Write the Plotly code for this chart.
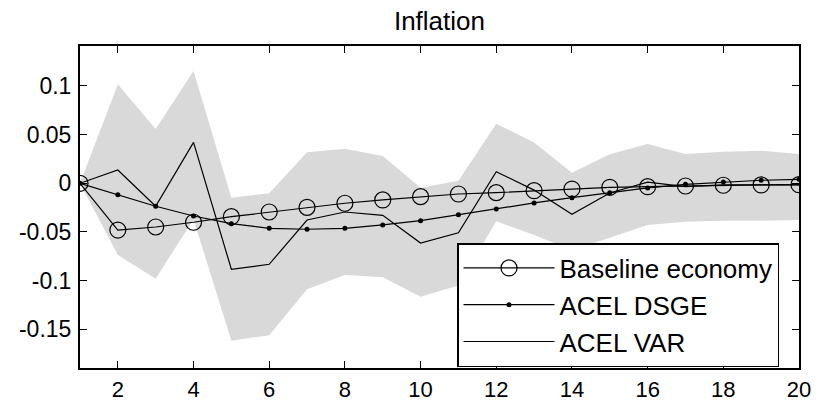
import plotly.graph_objects as go

periods = list(range(1, 21))

baseline = [0, -0.048, -0.0449, -0.040, -0.0343, -0.0295, -0.0247, -0.0205, -0.0171, -0.0137,
            -0.011, -0.0096, -0.0076, -0.0059, -0.0041, -0.0035, -0.0028, -0.002, -0.0017, -0.0014]
acel_dsge = [0, -0.0117, -0.0236, -0.0336, -0.0415, -0.0462, -0.0472, -0.0462, -0.0428, -0.0384,
             -0.0322, -0.0264, -0.0202, -0.0148, -0.0096, -0.0048, -0.0011, 0.0013, 0.0031, 0.0041]
acel_var = [0, 0.0137, -0.0236, 0.042, -0.0883, -0.0832, -0.0377, -0.0295, -0.0329, -0.0613,
            -0.0508, 0.0119, -0.007, -0.0318, -0.0100, 0.0012, -0.0035, -0.0017, -0.0016, -0.0016]
band_upper = [0, 0.1016, 0.0557, 0.1153, -0.0148, -0.0103, 0.0318, 0.0355, 0.028, -0.0045,
              0.0027, 0.0612, 0.042, 0.0109, 0.0298, 0.0403, 0.030, 0.0325, 0.0335, 0.030]
band_lower = [0, -0.0736, -0.098, -0.037, -0.1616, -0.156, -0.1088, -0.0941, -0.0965, -0.1164,
              -0.105, -0.039, -0.053, -0.0685, -0.056, -0.0428, -0.0394, -0.0384, -0.0384, -0.0377]

x_ticks = [2, 4, 6, 8, 10, 12, 14, 16, 18, 20]
y_ticks = [0.1, 0.05, 0, -0.05, -0.1, -0.15]
y_ticktext = ["0.1", "0.05", "0", "-0.05", "-0.1", "-0.15"]

fig = go.Figure()
fig.add_trace(go.Scatter(x=periods, y=band_lower, mode="lines", line=dict(width=0, color="#d9d9d9"),
                         showlegend=False, hoverinfo="skip"))
fig.add_trace(go.Scatter(x=periods, y=band_upper, mode="lines", line=dict(width=0, color="#d9d9d9"),
                         fill="tonexty", fillcolor="#d9d9d9", showlegend=False, hoverinfo="skip"))
fig.add_trace(go.Scatter(x=periods, y=baseline, mode="lines+markers", name="Baseline economy",
                         line=dict(color="black", width=1.2),
                         marker=dict(symbol="circle-open", size=16, color="black", line=dict(width=1.2))))
fig.add_trace(go.Scatter(x=periods, y=acel_dsge, mode="lines+markers", name="ACEL DSGE",
                         line=dict(color="black", width=1.2),
                         marker=dict(symbol="circle", size=5, color="black")))
fig.add_trace(go.Scatter(x=periods, y=acel_var, mode="lines", name="ACEL VAR",
                         line=dict(color="black", width=1.2)))

font_family = "Liberation Sans, Arial, sans-serif"
fig.update_layout(
    width=825, height=404,
    margin=dict(l=80, r=26, t=46, b=36, autoexpand=False),
    paper_bgcolor="white", plot_bgcolor="white",
    font=dict(family=font_family, color="black"),
    title=dict(text="Inflation", x=0.5327, xanchor="center", y=(404 - 21) / 404, yanchor="middle",
               yref="container", font=dict(size=26, family=font_family, color="black"),
               automargin=False),
    showlegend=True,
    legend=dict(x=(457 - 80) / 719, y=(368 - 243) / 322, xanchor="left", yanchor="top",
                bgcolor="white", bordercolor="black", borderwidth=1.5,
                font=dict(size=26, family=font_family, color="black"),
                itemwidth=91, tracegroupgap=0, traceorder="normal"),
)
fig.update_xaxes(range=[1, 20], tickvals=x_ticks, ticks="inside", ticklen=7, tickwidth=1,
                 tickcolor="black", showline=True, linecolor="black", linewidth=2, mirror="ticks",
                 showgrid=False, zeroline=False, ticklabelstandoff=1, automargin=False,
                 tickfont=dict(size=22, family=font_family, color="black"))
fig.update_yaxes(range=[-0.1897, 0.141], tickvals=y_ticks, ticktext=y_ticktext, ticks="inside",
                 ticklen=7, tickwidth=1, tickcolor="black", showline=True, linecolor="black",
                 linewidth=2, mirror="ticks", showgrid=False, zeroline=False, ticklabelstandoff=2,
                 automargin=False,
                 tickfont=dict(size=23, family=font_family, color="black"))

fig.write_html("out.html")
